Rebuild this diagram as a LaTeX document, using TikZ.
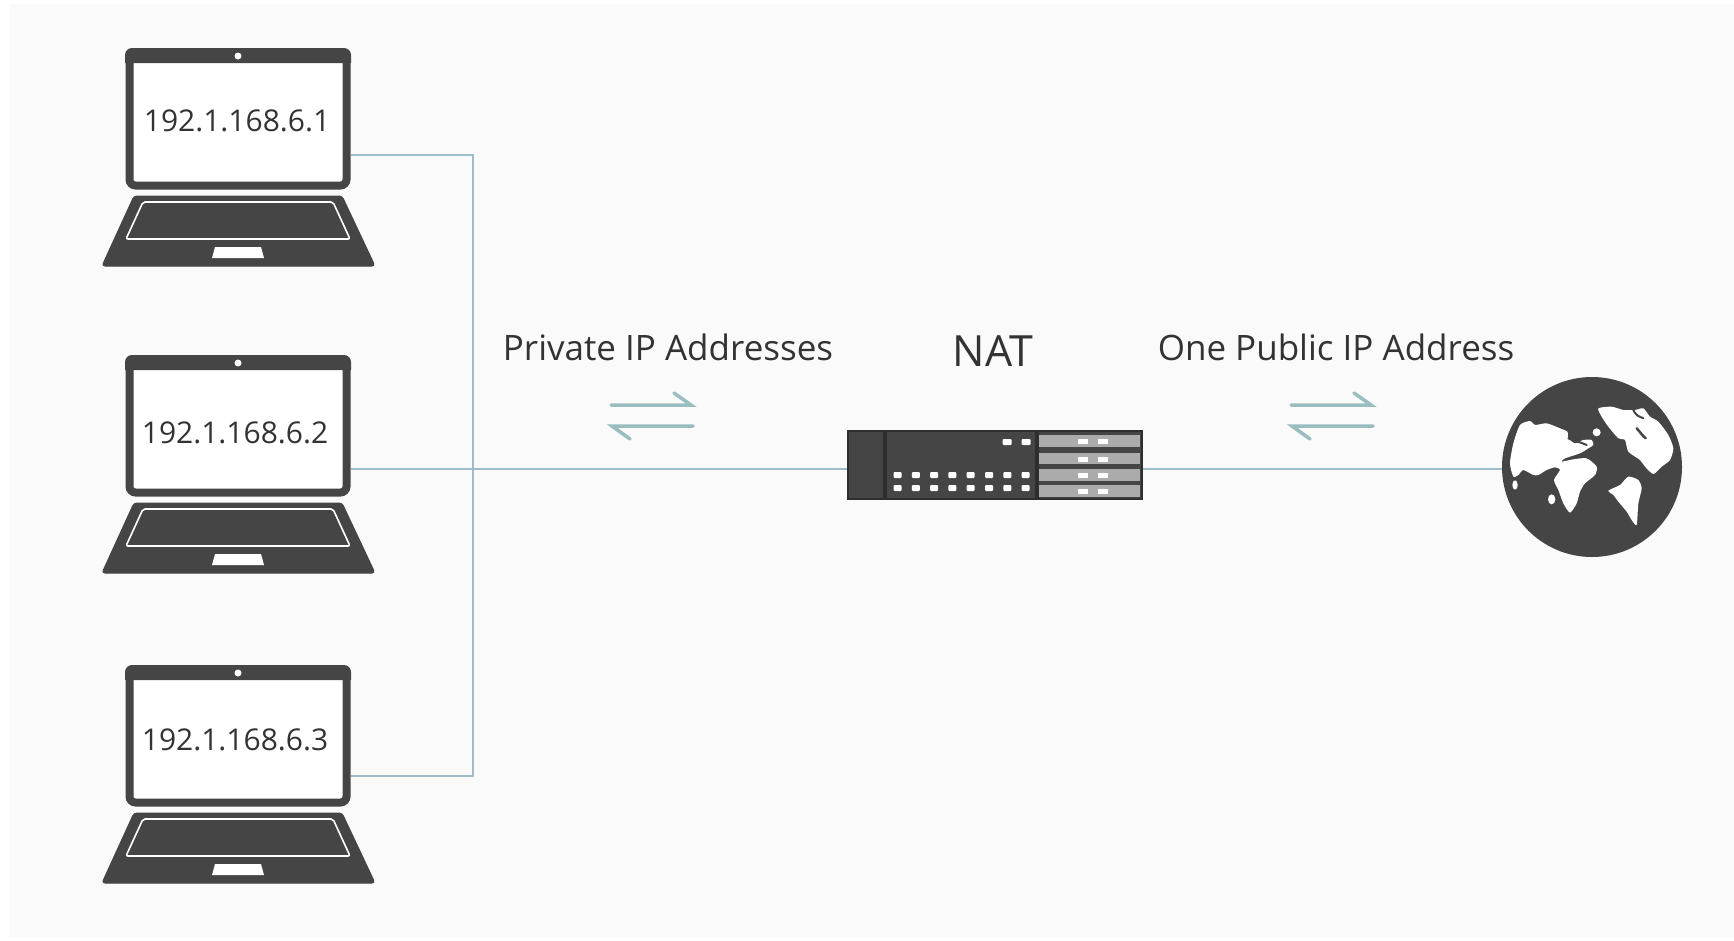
\documentclass[tikz,border=0pt]{standalone}
\usepackage{fontspec}
\setmainfont{Open Sans}
\definecolor{dark}{HTML}{454545}
\definecolor{edge}{HTML}{2E2E2E}
\definecolor{wire}{HTML}{9DBEC6}
\definecolor{harp}{HTML}{9ABDC0}
\definecolor{bg}{HTML}{FAFAFA}
\definecolor{ink}{HTML}{333333}
\definecolor{slot}{HTML}{ABABAB}
\tikzset{
  wireline/.style={draw=wire,line width=1.5pt},
  harpline/.style={draw=harp,line width=3.5pt,line cap=round},
  lapscreen/.style={draw=dark,fill=white,line width=8pt,rounded corners=6pt,minimum width=217pt,minimum height=133pt,inner sep=0pt},
  lapip/.style={text=ink,inner sep=0pt,font=\fontsize{30}{30}\selectfont},
  lapbase/.style={fill=dark,draw=dark,line width=1pt,line join=round,rounded corners=3pt},
  label/.style={text=ink,inner sep=0pt,font=\fontsize{35}{35}\selectfont},
  natlabel/.style={text=ink,inner sep=0pt,font=\fontsize{43}{43}\selectfont},
  led/.style={fill=white,rounded corners=1pt},
}
\newcommand{\laptopbody}[5]{%
  % #1 name, #2 y offset, #3 text, #4 text x, #5 text y
  \begin{scope}[shift={(0,#2)}]
    \node[lapscreen] (#1) at (238,119) {};
    \fill[dark] (125,63) [rounded corners=7pt] -- (125,48) -- (351,48) [sharp corners] -- (351,63) -- cycle;
    \fill[white] (238,56) circle (3.5pt);
    \path[lapbase] (134,196) -- (342,196) -- (375,266) -- (102,266) -- cycle;
    \draw[white,line width=1.6pt,rounded corners=2pt,fill=dark] (143,202) -- (333,202) -- (350,239) -- (126,239) -- cycle;
    \fill[white] (215,247) -- (261,247) -- (264,258) -- (212,258) -- cycle;
    \node[lapip] (#1ip) at (#4,#5) {#3};
  \end{scope}}
\begin{document}
\begin{tikzpicture}[x=1pt,y=-1pt]
\useasboundingbox (0,0) rectangle (1734,940);
\fill[white] (0,0) rectangle (1734,940);
\fill[bg] (9,4) rectangle (1734,938);

\coordinate (bus1) at (473,155);
\coordinate (bus2) at (473,469);
\coordinate (bus3) at (473,776);

\node[fill=dark,minimum width=296pt,minimum height=70pt,inner sep=0pt] (nat) at (995,465) {};
\node[circle,fill=dark,minimum size=180pt,inner sep=0pt] (net) at (1592,467) {};

\laptopbody{lapA}{0}{192.1.168.6.1}{237}{120.5}
\laptopbody{lapB}{307}{192.1.168.6.2}{235}{125.5}
\laptopbody{lapC}{617}{192.1.168.6.3}{235}{123}

\coordinate (lapAp) at (351,155);
\coordinate (lapBp) at (351,469);
\coordinate (lapCp) at (351,776);

\draw[wireline] (lapAp) -- (bus1) -- (bus3) -- (lapCp);
\draw[wireline] (lapBp) -- (bus2) -- (nat.west |- bus2);
\draw[wireline] (nat.east |- bus2) -- (net.west |- bus2);

% switch details
\draw[edge,line width=2.5pt] (848,431) rectangle (1142,499);
\fill[edge] (883,431) rectangle (887,499);
\fill[edge] (1035,431) rectangle (1039,499);
\foreach \y/\h in {435/12,453/11,469/12,485/12}{
  \fill[slot] (1039,\y) rectangle (1140,\y+\h);
  \fill[white] (1078,\y+3.5) rectangle (1088,\y+8.5);
  \fill[white] (1098,\y+3.5) rectangle (1108,\y+8.5);
}
\foreach \x in {1007,1026}{\fill[led] (\x-4.5,439) rectangle (\x+4.5,445);}
\foreach \i in {0,...,7}{
  \fill[led] (897.5+\i*18.3-4,472) rectangle (897.5+\i*18.3+4,478);
  \fill[led] (897.5+\i*18.3-4,485) rectangle (897.5+\i*18.3+4,491);
}

% globe continents
\begin{scope}[shift={(1480,360)},x=0.3333pt,y=-0.3333pt]
\fill[white] plot[smooth cycle,tension=0.4] coordinates {(90,310)(100,250)(120,195)(150,183)(165,195)(200,190)(240,205)(262,215)(265,235)(285,250)(310,240)(335,240)(340,255)(325,265)(300,280)(255,295)(245,305)(280,298)(320,295)(350,320)(345,345)(315,370)(300,395)(290,430)(270,458)(250,430)(235,390)(222,360)(240,330)(225,322)(200,330)(175,345)(160,345)(130,330)(115,345)(100,350)};
\fill[white] (105,375) ellipse (8 and 14);
\fill[white] (350,217) circle (12);
\fill[white] (215,418) ellipse (11 and 15);
\fill[white] plot[smooth cycle,tension=0.4] coordinates {(355,145)(395,140)(430,150)(465,150)(490,145)(510,170)(535,185)(565,225)(580,265)(570,300)(545,320)(520,342)(495,320)(480,300)(445,275)(435,240)(415,235)(385,200)(365,170)};
\draw[dark,line width=2.5pt,line cap=round] (470,205) .. controls (480,215) and (485,225) .. (497,235);
\draw[dark,line width=2pt,line cap=round] (460,150) .. controls (470,170) and (480,170) .. (490,175);
\fill[white] plot[smooth cycle,tension=0.4] coordinates {(385,392)(420,375)(445,350)(475,360)(485,385)(475,430)(470,495)(455,480)(440,455)(415,425)(400,405)};
\draw[dark,line width=2pt,line cap=round] (265,235) .. controls (285,245) and (300,245) .. (320,255);
\end{scope}

% harpoons
\foreach \n/\dx in {h1/0,h2/680}{
  \begin{scope}[shift={(\dx,0)}]
    \coordinate (\n a) at (611,405); \coordinate (\n b) at (691,405); \coordinate (\n c) at (674,393);
    \coordinate (\n d) at (693,426); \coordinate (\n e) at (612,426); \coordinate (\n f) at (630,439);
    \draw[harpline] (\n a) -- (\n b) -- (\n c);
    \draw[harpline] (\n d) -- (\n e) -- (\n f);
  \end{scope}
}

\node[label] (privlab) at (668,347) {Private IP Addresses};
\node[natlabel] (natlab) at (993,351) {NAT};
\node[label] (publab) at (1336,347) {One Public IP Address};
\end{tikzpicture}
\end{document}
